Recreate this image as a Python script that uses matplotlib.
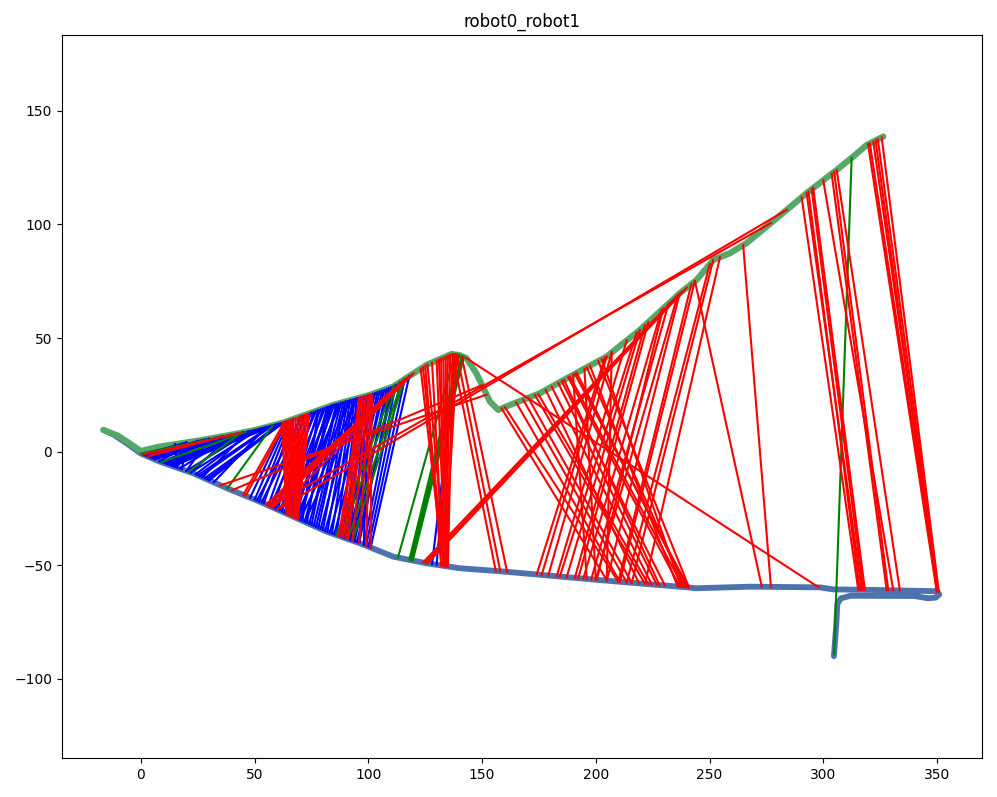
import numpy as np
import matplotlib.pyplot as plt

# robot0 path (blue), forward part - x increasing
r0_x = [-16.5, -12, -6, 0, 8.4, 23, 37.7, 52.3, 67, 81.7, 96.3, 111, 125.6, 140.3,
        157.9, 201.8, 241.4, 244, 267.8, 298.6, 304.3, 320.5, 350]
r0_y = [9.6, 7.5, 3.5, -0.8, -4.4, -9.5, -16, -22, -28.6, -35.2, -40.3, -46.2, -49.1, -51.3,
        -52.6, -56.5, -59.8, -60.1, -59.4, -59.7, -60.6, -60.8, -61.4]
# robot0 return leg (end loop and the drop at x~305)
r0_back_x = [350, 351, 349.5, 346, 340, 312, 307.8, 306.2, 305.8, 304.7]
r0_back_y = [-61.4, -62.8, -64.2, -64.5, -63.5, -63.4, -64.5, -67, -75, -90]

# robot1 path (green)
r1_x = [-16.5, -10, -4, 0, 8, 26, 40, 50, 62.6, 84.6, 100.7, 111, 125.6, 136.6, 140,
        143.1, 147.5, 153.5, 157.1, 162.3, 168, 175.4, 187.2, 204.8, 219.4, 237, 244.3,
        251.7, 259, 266.3, 283.9, 292.7, 305.9, 313.2, 319.1, 326.4]
r1_y = [9.6, 7, 3, 0.3, 2.2, 5, 7.5, 9.5, 12.8, 20.6, 25, 28.7, 38.2, 43, 42.5,
        41.2, 34.5, 22, 18.4, 20.6, 22.8, 25.7, 32.3, 41.9, 53.6, 69.8, 75.6,
        84.4, 87.4, 91.8, 106.4, 113.8, 124, 129.9, 135, 138.7]

# matches: x on robot1 path (top) -> x on robot0 path (bottom)
blue_top = [20, 30, 40, 50, 58, 62, 25, 35, 45, 55, 60, 15, 20, 30, 40, 50, 58, 62, 60, 55,
            45, 48, 52, 57, 61, 28, 36, 44, 53, 59, 63, 33, 42, 47,
            64, 65, 66, 67, 70, 72, 74, 76, 78, 80, 82, 84, 86, 88, 89, 90, 91, 92, 93, 94,
            95, 96, 97, 98, 99, 100, 75, 77, 79, 81, 83, 85, 87, 84, 88, 92, 95, 98,
            71, 73, 78, 82, 86, 90, 94, 97, 100, 101, 103, 105, 107, 109, 111,
            102, 104, 106, 108, 110, 112, 114, 116, 118, 139, 138]
blue_bot = [1, 2, 3, 4, 5, 6, 8, 9, 10, 12, 14, 16, 18, 20, 22, 24, 26, 28, 30, 32,
            14, 20, 22, 25, 30, 1.5, 2.5, 3.5, 11, 13, 29, 15, 17, 27,
            48, 50, 52, 54, 56, 58, 60, 62, 64, 66, 68, 70, 72, 74, 76, 78, 80, 82, 84, 86,
            88, 90, 92, 94, 96, 98, 57, 59, 61, 63, 65, 67, 69, 64, 66, 68, 70, 72,
            51, 53, 71, 73, 75, 77, 79, 81, 83, 85, 87, 89, 91, 93, 95,
            88, 90, 92, 94, 96, 98, 99, 100, 101, 128, 130]

green_top = [43, 46, 44, 58, 111, 113, 115, 116, 138, 140, 141, 141.5, 142]
green_bot = [0, 9, 21, 38, 86, 88, 91, 93, 113, 118, 118.5, 119, 119.5]
# one green match ends at the bottom of robot0's drop near x=305
green_drop_top = [312.5]
green_drop_y = [-89]

red_top = [44, 38, 63, 64,
           62, 63, 64, 65, 66, 67, 68, 69, 70, 71, 72, 73, 74, 65, 66,
           96, 97, 98, 99, 100, 100.5, 101, 101.5, 97,
           116, 117, 118, 119, 120, 152, 150, 277, 284,
           123, 124, 126, 128, 130, 131, 132, 133, 134, 135, 136, 137, 138, 139, 125,
           137, 139, 141, 143, 236, 238, 240,
           158.6, 160, 168.1, 170.3, 173.3, 174.7, 180.6, 183.5, 185, 187.9, 188.6, 190.8,
           191.6, 196, 197.4, 201.1, 202.6, 165, 178, 186,
           204, 204.8, 207, 213.6, 218, 219.4, 221.6, 223.1, 228.9, 229.6, 236.9, 242,
           243.5, 250.1, 251.6, 254.6, 236, 232, 190, 195, 207,
           243.6, 264.8,
           290.5, 292.7, 294.9, 295.6, 293.5, 300, 303.7, 304.8, 305.9,
           319.7, 320.5, 322, 324, 325.7, 323]
red_bot = [1, 3, 45, 46,
           64, 64.5, 65, 65.5, 66, 66, 67, 67, 67.5, 68, 68, 68.5, 69, 69, 68,
           88, 89, 90, 91, 93, 96, 99, 101, 87,
           55, 56, 57, 58, 60, 35, 40, 57, 60,
           133, 133.5, 134, 133, 134, 135, 133, 134, 134.5, 133, 134, 135, 134, 133.5, 132,
           156, 158, 161, 298, 124, 125, 126,
           205, 209.9, 213.6, 215.8, 221.6, 223.1, 224.6, 226.8, 230.4, 237, 238.5, 240.7,
           240, 239, 236, 241, 237.5, 210.6, 219, 228,
           174, 176.2, 179.1, 182.8, 184.2, 187.2, 190.8, 192.3, 194.5, 200.4, 204.8, 209.9,
           210.6, 213.6, 215.8, 221.6, 200, 198, 196, 200, 204.8,
           273, 277,
           315.4, 316.9, 317.6, 318.3, 316, 330.8, 327.9, 328.6, 333.7,
           349.9, 350.2, 350.5, 350.6, 350.8, 350]


def on_r1(xq):
    return np.interp(xq, r1_x, r1_y)


def on_r0(xq):
    return np.interp(xq, r0_x, r0_y)


fig, ax = plt.subplots(figsize=(9.97, 7.97), dpi=100)
fig.subplots_adjust(left=62/997, right=982/997, top=1-35/797, bottom=1-758/797)

ax.plot(r0_x + r0_back_x, r0_y + r0_back_y, color='#4c72b0', lw=4.2,
        solid_capstyle='round', solid_joinstyle='round')
ax.plot(r1_x, r1_y, color='#55a868', lw=4.5, solid_capstyle='round', solid_joinstyle='round')

for t, b in zip(blue_top, blue_bot):
    ax.plot([t, b], [on_r1(t), on_r0(b)], color='b', lw=1.5)

for t, b in zip(green_top, green_bot):
    ax.plot([t, b], [on_r1(t), on_r0(b)], color='g', lw=1.5)
drop_y = r0_back_y[-4:][::-1]
drop_x = r0_back_x[-4:][::-1]
for t, yb in zip(green_drop_top, green_drop_y):
    ax.plot([t, np.interp(yb, drop_y, drop_x)], [on_r1(t), yb], color='g', lw=1.5)

for t, b in zip(red_top, red_bot):
    ax.plot([t, b], [on_r1(t), on_r0(b)], color='r', lw=1.5)

ax.set_xlim(-34.7, 369.8)
ax.set_ylim(-134.8, 183.4)
ax.set_title("robot0_robot1")

plt.savefig("out.png")
